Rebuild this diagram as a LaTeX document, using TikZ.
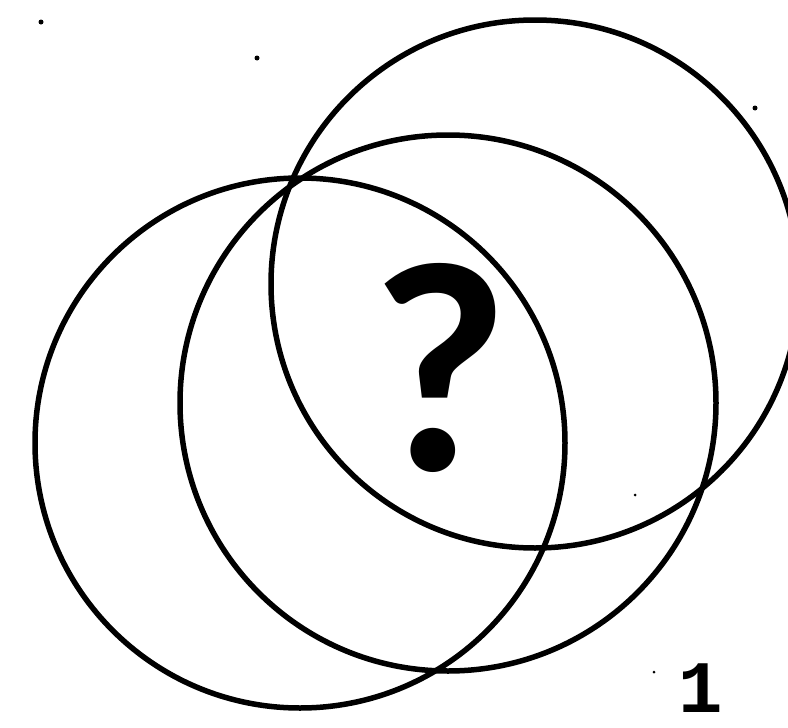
\documentclass[tikz,border=0pt]{standalone}
\usepackage{fontspec}
\newfontfamily\qfont{Carlito}
\newfontfamily\numfont{Liberation Mono}
\begin{document}
\begin{tikzpicture}[
  x=1pt, y=-1pt,
  ring/.style={draw, line width=5.5pt},
  speck/.style={fill, circle, inner sep=0pt, minimum size=5pt},
  query/.style={inner sep=0pt, font=\qfont\bfseries\fontsize{300}{300}\selectfont},
  digit/.style={inner sep=0pt, text depth=0pt, font=\numfont\bfseries\fontsize{74}{74}\selectfont}
]
  \useasboundingbox (0,0) rectangle (788,728);
  \coordinate (left) at (300,443);
  \coordinate (middle) at (448,403);
  \coordinate (upper) at (535,284);
  \draw[ring] (left) circle (265pt);
  \draw[ring] (middle) circle (268pt);
  \draw[ring] (upper) circle (264pt);
  \node[query] (qm) at (440,368) {?};
  \node[digit, anchor=south] (num) at (701,713) {1};
  \node[speck] (s1) at (41,22) {};
  \node[speck] (s2) at (257,58) {};
  \node[speck] (s3) at (755,108) {};
  \node[speck, minimum size=3pt] (s4) at (654,672) {};
  \node[speck, minimum size=3pt] (s5) at (635,495) {};
\end{tikzpicture}
\end{document}
